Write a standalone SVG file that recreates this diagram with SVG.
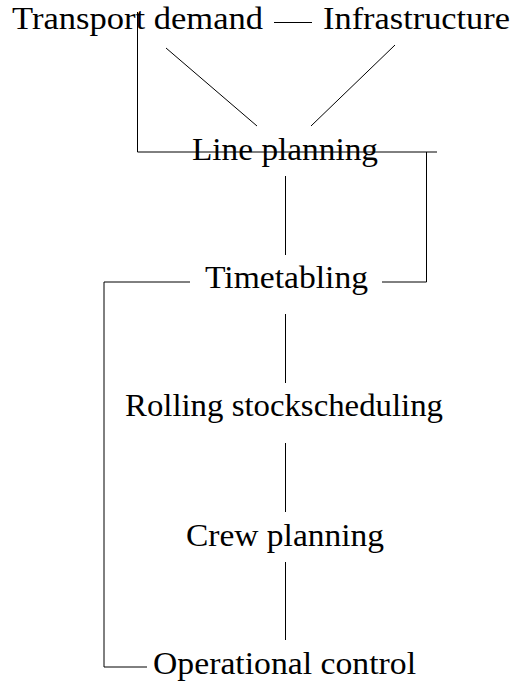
<svg xmlns="http://www.w3.org/2000/svg" width="514" height="682" viewBox="0 0 514 682">
<style>
text{font-family:"Liberation Serif","Times New Roman",serif;font-size:31px;fill:#000;text-anchor:middle}
.c line,.c polyline{stroke:#000;stroke-width:1;fill:none}
</style>
<rect width="514" height="682" fill="#fff"/>
<g class="c" id="connectors">
<line x1="274" y1="22.5" x2="312" y2="22.5"/>
<line x1="166" y1="48" x2="257" y2="126"/>
<line x1="395" y1="45" x2="311" y2="126"/>
<polyline points="137.5,12 137.5,152 437,152"/>
<polyline points="426.5,152 426.5,282 382,282"/>
<line x1="285.5" y1="176" x2="285.5" y2="255"/>
<polyline points="190,282 104,282 104,667 147,667"/>
<line x1="285.5" y1="314" x2="285.5" y2="383"/>
<line x1="285.5" y1="443" x2="285.5" y2="512"/>
<line x1="285.5" y1="562" x2="285.5" y2="640"/>
</g>
<g id="transport-demand"><text x="137.5" y="29" textLength="251" lengthAdjust="spacingAndGlyphs">Transport demand</text></g>
<g id="infrastructure"><text x="416.5" y="29" textLength="187" lengthAdjust="spacingAndGlyphs">Infrastructure</text></g>
<g id="line-planning"><text x="285" y="160" textLength="186" lengthAdjust="spacingAndGlyphs">Line planning</text></g>
<g id="timetabling"><text x="286.5" y="288" textLength="163" lengthAdjust="spacingAndGlyphs">Timetabling</text></g>
<g id="rolling-stock"><text x="284" y="416" textLength="318" lengthAdjust="spacingAndGlyphs">Rolling stockscheduling</text></g>
<g id="crew-planning"><text x="285" y="546" textLength="198" lengthAdjust="spacingAndGlyphs">Crew planning</text></g>
<g id="operational-control"><text x="284.5" y="674" textLength="263" lengthAdjust="spacingAndGlyphs">Operational control</text></g>
</svg>
